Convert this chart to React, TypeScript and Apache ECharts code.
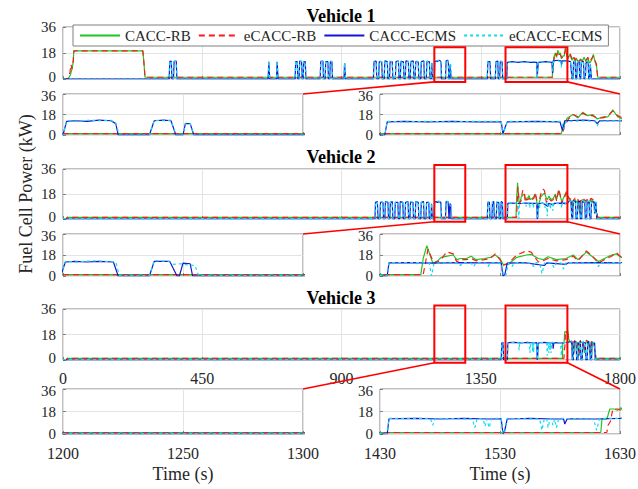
import React, { useEffect, useRef } from "react";
import * as echarts from "echarts";

type P = [number, number];

// ---------- data ----------
const seriesNames = ["CACC-RB", "eCACC-RB", "CACC-ECMS", "eCACC-ECMS"];
const vehicleTitles = ["Vehicle 1", "Vehicle 2", "Vehicle 3"];
const mainRange = [0, 1800];
const mainInterval = 450;
const zoomLeftRange = [1200, 1300];
const zoomLeftInterval = 50;
const zoomRightRange = [1430, 1630];
const zoomRightInterval = 100;
const yRange = [0, 36];
const yInterval = 18;
// red box vertical extent (kW) on each main panel
const boxY: P[] = [[-2, 22], [-2, 38.8], [-2, 38.5]];

const v1RB: P[] = [[0,0],[18,0.5],[24,3],[28,6],[31,9],[33,12],[35,19.5],[258,19.5],[262,10],[265,1.2],[1581,1.2],[1583,8],[1586,15],[1591,18],[1595,15],[1599,20],[1603,17],[1607,18],[1611,14],[1616,16],[1620,16],[1624,22],[1628,16],[1632,14],[1638,17],[1645,13],[1650,15],[1655,12],[1660,14],[1666,11],[1672,14],[1678,12],[1684,15],[1690,12],[1696,14],[1702,11],[1708,13],[1714,17],[1718,13],[1724,9],[1728,1.2],[1800,1.2]];
const v1eRB: P[] = [[0,0],[18,0.5],[22,4],[26,10],[29,7],[33,12],[35,19.5],[258,19.5],[262,10],[265,1.2],[1582,1.2],[1584,8],[1587,14],[1591,18],[1595,16],[1599,19],[1603,17],[1607,17],[1611,15],[1616,15],[1620,17],[1624,21],[1628,17],[1632,15],[1638,18],[1645,14],[1650,16],[1655,13],[1660,15],[1666,12],[1672,13],[1678,13],[1684,14],[1690,13],[1696,15],[1702,12],[1708,14],[1714,16],[1718,14],[1724,10],[1728,1.2],[1800,1.2]];
const v1ECMS: P[] = [[0,0],[343,0],[345,12],[350,12.5],[352,0],[357,0],[359,12],[366,12.5],[368,0],[663,0],[665,12],[668,0],[690,0],[692,12],[695,0],[750,0],[752,12],[757,12],[759,0],[763,0],[765,12.5],[771,12],[773,0],[776,0],[778,12],[783,12],[785,0],[831,0],[833,12],[840,12.5],[842,0],[847,0],[849,12],[856,12],[858,0],[862,0],[864,12],[869,12],[871,0],[908,0],[910,11],[913,0],[1003,0],[1005,12],[1012,12.5],[1014,0],[1020,0],[1022,12],[1030,12],[1032,0],[1038,0],[1040,12.5],[1048,12],[1050,0],[1055,0],[1057,12],[1064,12],[1066,0],[1074,0],[1076,12],[1084,12.5],[1086,0],[1090,0],[1092,12],[1100,12],[1102,0],[1106,0],[1108,12.5],[1116,12],[1118,0],[1122,0],[1124,12],[1132,12.5],[1134,0],[1138,0],[1140,12],[1148,12],[1150,0],[1156,0],[1158,12],[1166,12.5],[1168,0],[1174,0],[1176,12],[1184,12],[1186,0],[1190,0],[1192,11],[1194,0],[1200,0],[1201.5,12],[1205,12.5],[1210,12],[1215,13],[1220,12.5],[1222,10],[1223,0],[1236,0],[1238,12.5],[1242,13],[1245,12.5],[1247,0],[1250,0],[1251,10],[1253,10],[1254.5,0],[1371,0],[1373,12],[1380,12],[1382,0],[1397,0],[1399,12],[1405,12.5],[1407,0],[1411,0],[1413,12],[1419,12],[1421,0],[1434,0],[1436,11.5],[1450,12],[1470,11.5],[1490,12],[1510,11.5],[1531,11.5],[1532.5,1],[1534,6],[1536,11.5],[1560,12],[1580,11.5],[1582,4],[1584,12.5],[1600,13],[1609,12.5],[1611,10],[1613,12.5],[1630,12.5],[1640,12],[1645,0],[1648,0],[1650,12],[1655,12],[1657,0],[1660,0],[1662,11],[1668,12],[1670,0],[1673,0],[1675,12],[1682,12],[1684,0],[1688,0],[1690,11],[1697,12],[1699,0],[1702,0],[1704,10],[1708,0],[1800,0]];
const v1eECMS: P[] = [[0,0],[343,0],[345,12.5],[350,12],[352,0],[357,0],[359,12.5],[366,12],[368,0],[663,0],[665,12.5],[668,0],[690,0],[692,12.5],[695,0],[750,0],[752,12.5],[757,12],[759,0],[763,0],[765,12],[771,12.5],[773,0],[776,0],[778,12.5],[783,12],[785,0],[831,0],[833,12.5],[840,12],[842,0],[847,0],[849,12.5],[856,12],[858,0],[862,0],[864,12.5],[869,12],[871,0],[908,0],[910,11.5],[913,0],[1003,0],[1005,12.5],[1012,12],[1014,0],[1020,0],[1022,12.5],[1030,12],[1032,0],[1038,0],[1040,12],[1048,12.5],[1050,0],[1055,0],[1057,12.5],[1064,12],[1066,0],[1074,0],[1076,12.5],[1084,12],[1086,0],[1090,0],[1092,12.5],[1100,12],[1102,0],[1106,0],[1108,12],[1116,12.5],[1118,0],[1122,0],[1124,12.5],[1132,12],[1134,0],[1138,0],[1140,12.5],[1148,12],[1150,0],[1156,0],[1158,12.5],[1166,12],[1168,0],[1174,0],[1176,12.5],[1184,12],[1186,0],[1190,0],[1192,11.5],[1194,0],[1200,0],[1201.5,12.5],[1206,12],[1211,13],[1216,12.5],[1220,13],[1222,10],[1223.5,0],[1236,0],[1238,13],[1242,12.5],[1245,13],[1247,0],[1250,0],[1251,10.5],[1253,10],[1254.5,0],[1371,0],[1373,12.5],[1380,12],[1382,0],[1397,0],[1399,12.5],[1405,12],[1407,0],[1411,0],[1413,12.5],[1419,12],[1421,0],[1434,0],[1436,12],[1450,11.5],[1470,12],[1490,11.5],[1510,12],[1531,12],[1532.5,0],[1534,5],[1536,12],[1560,11.5],[1581,12],[1583,5],[1585,12],[1600,12.5],[1609,12],[1611,8],[1613,12],[1630,12.5],[1640,12.5],[1645,0],[1648,0],[1650,12.5],[1655,12],[1657,0],[1660,0],[1662,11.5],[1668,12],[1670,0],[1673,0],[1675,12.5],[1682,12],[1684,0],[1688,0],[1690,11.5],[1697,12],[1699,0],[1702,0],[1704,10.5],[1708,0],[1800,0]];

const v2RB: P[] = [[0,0],[10,0],[14,1.2],[1464,1.2],[1466,15],[1469,26],[1471,20],[1474,11],[1478,13],[1481,16],[1486,17],[1491,18],[1494,14],[1497,15],[1502,15],[1506,17],[1510,14],[1517,15],[1522,16],[1526,18],[1530,15],[1532.5,10],[1537,10],[1544,16],[1552,18],[1556,18.5],[1562,15],[1566,14],[1570,16.5],[1577,14],[1585,15],[1591,18],[1595,14],[1602,20.5],[1607,16.5],[1612,12.5],[1617,15],[1623,18],[1627,19],[1630,16.5],[1636,14],[1642,13],[1645,3],[1648,12],[1655,14],[1660,12],[1665,13],[1670,4],[1673,13],[1680,14],[1688,12],[1694,13],[1700,11],[1706,14],[1712,13],[1718,12],[1723,5],[1728,1.2],[1800,1.2]];
const v2eRB: P[] = [[0,0],[10,0],[14,1.2],[1466,1.2],[1468,12],[1470,23],[1472,18],[1475,11],[1480,13],[1485.6,20.7],[1491,19],[1494,12],[1497,14],[1502,14],[1506,15],[1510,13],[1517,14],[1522,15],[1526,19],[1530,14],[1532.5,9],[1537,11],[1544,18],[1552,21.5],[1556,20.5],[1562,12],[1566,13],[1570,15],[1577,13],[1585,14],[1591,17],[1595,13],[1602,21.5],[1607,17],[1612,11],[1617,14],[1623,17],[1627,20],[1630,17],[1636,15],[1642,14],[1645,4],[1648,13],[1655,15],[1660,13],[1665,14],[1670,5],[1673,14],[1680,15],[1688,13],[1694,14],[1700,12],[1706,15],[1712,14],[1718,13],[1723,6],[1728,1.2],[1800,1.2]];
const v2ECMS: P[] = [[0,0],[1008,0],[1010,12],[1016,12.5],[1018,0],[1024,0],[1026,12],[1034,12],[1036,0],[1040,0],[1042,12.5],[1050,12],[1052,0],[1056,0],[1058,12],[1064,12.5],[1066,0],[1072,0],[1074,12],[1082,12],[1084,0],[1088,0],[1090,12.5],[1098,12],[1100,0],[1105,0],[1107,12],[1115,12.5],[1117,0],[1121,0],[1123,12],[1131,12],[1133,0],[1138,0],[1140,12.5],[1148,12],[1150,0],[1156,0],[1158,12],[1165,12.5],[1167,0],[1173,0],[1175,12],[1182,12],[1184,0],[1189,0],[1191,11],[1194,0],[1199,0],[1201,12],[1205,12.5],[1210,12],[1215,12.5],[1221,12],[1223,0],[1236,0],[1238,12.5],[1244.5,12.5],[1247.5,0],[1248.5,0],[1250,11],[1253,10.5],[1254,0],[1371,0],[1373,12],[1378,12],[1380,0],[1386,0],[1388,12],[1392,12.5],[1394,0],[1400,0],[1402,12],[1408,12],[1410,0],[1414,0],[1416,12.5],[1420,12],[1422,0],[1436,0],[1437.5,11.3],[1455,11.5],[1475,11],[1495,11.5],[1515,11.2],[1531,11.3],[1532.5,0],[1534,1],[1536,11],[1550,11.5],[1567,9],[1569,11.3],[1585,10],[1587,11.3],[1610,11.5],[1630,11.3],[1636,13],[1642,12.5],[1644,0],[1647,0],[1649,13],[1656,12.5],[1658,0],[1662,0],[1664,12],[1670,13],[1672,0],[1676,0],[1678,12.5],[1686,12],[1688,0],[1692,0],[1694,13],[1700,12],[1702,0],[1706,0],[1708,12.5],[1716,12],[1718,4],[1722,12],[1725,0],[1800,0]];
const v2eECMS: P[] = [[0,0.3],[1008,0.3],[1010,12.5],[1016,12],[1018,0.3],[1024,0.3],[1026,12.5],[1034,12],[1036,0.3],[1040,0.3],[1042,12],[1050,12.5],[1052,0.3],[1056,0.3],[1058,12.5],[1064,12],[1066,0.3],[1072,0.3],[1074,12.5],[1082,12],[1084,0.3],[1088,0.3],[1090,12],[1098,12.5],[1100,0.3],[1105,0.3],[1107,12.5],[1115,12],[1117,0.3],[1121,0.3],[1123,12.5],[1131,12],[1133,0.3],[1138,0.3],[1140,12],[1148,12.5],[1150,0.3],[1156,0.3],[1158,12.5],[1165,12],[1167,0.3],[1173,0.3],[1175,12.5],[1182,12],[1184,0.3],[1189,0.3],[1191,11.5],[1194,0.3],[1199,0.3],[1201,12.5],[1206,12],[1212,13],[1218,12.5],[1222,12],[1223.5,0.3],[1236,0.3],[1238,13],[1244,12.5],[1246,10],[1249,10.5],[1252,9.5],[1255,9],[1256.5,0.3],[1371,0.3],[1373,12.5],[1378,12],[1380,0.3],[1386,0.3],[1388,12.5],[1392,12],[1394,0.3],[1400,0.3],[1402,12.5],[1408,12],[1410,0.3],[1414,0.3],[1416,12],[1420,12.5],[1422,0.3],[1436,0.3],[1437.5,11.5],[1465,11.5],[1471,11],[1473,0],[1475,11],[1495,11.5],[1497,9],[1499,11.5],[1506,11],[1508,8],[1510,11.5],[1518,11],[1520,8],[1522,11.5],[1531,11],[1533,0],[1535,1],[1537,11],[1540,8],[1542,11.5],[1556,11],[1558,8],[1560,11.5],[1563,11],[1565,2],[1567,11],[1573,11.5],[1575,7],[1577,11.5],[1581,11],[1583,6],[1585,11.5],[1610,11],[1612,8],[1614,11.5],[1620,11],[1622,10],[1624,11.5],[1630,11.5],[1636,12.5],[1642,13],[1644,0.3],[1647,0.3],[1649,12.5],[1656,13],[1658,0.3],[1662,0.3],[1664,12.5],[1670,12],[1672,0.3],[1676,0.3],[1678,13],[1686,12.5],[1688,0.3],[1692,0.3],[1694,12.5],[1700,13],[1702,0.3],[1706,0.3],[1708,12],[1716,12.5],[1718,5],[1722,12.5],[1725,0.3],[1800,0.3]];

const v3RB: P[] = [[0,0],[10,0],[14,1.2],[1614,1.2],[1615,12],[1619,12],[1620,15],[1621.5,20],[1625,20],[1628,19],[1631,21],[1634,15],[1638,13],[1645,12],[1650,4],[1654,13],[1662,12.5],[1668,3],[1672,13],[1680,12],[1686,5],[1690,13],[1698,12],[1704,4],[1708,13],[1715,12],[1720,5],[1722,1.2],[1800,1.2]];
const v3eRB: P[] = [[0,0],[10,0],[14,1.2],[1619,1.2],[1620,7],[1622,10],[1624,20],[1628,20],[1631,19],[1634,16],[1638,14],[1645,13],[1650,5],[1654,14],[1662,13],[1668,4],[1672,14],[1680,13],[1686,6],[1690,14],[1698,13],[1704,5],[1708,14],[1715,13],[1720,6],[1722,1.2],[1800,1.2]];
const v3ECMS: P[] = [[0,0],[1416,0],[1418,12],[1422,12.5],[1424,0],[1436,0],[1437.5,12.2],[1460,12.5],[1480,12],[1500,12.5],[1520,12],[1531,12.2],[1532.5,0],[1534,3],[1536,12],[1555,12.5],[1575,12],[1583,12],[1584,8],[1586,12.2],[1610,12],[1630,12.5],[1640,13],[1644,12.5],[1646,0],[1649,0],[1651,13],[1658,12.5],[1660,0],[1664,0],[1666,12],[1672,13],[1674,0],[1678,0],[1680,12.5],[1688,12],[1690,0],[1694,0],[1696,13],[1702,12],[1704,0],[1708,0],[1710,12.5],[1718,12],[1720,0],[1800,0]];
const v3eECMS: P[] = [[0,0.3],[1416,0.3],[1418,12.5],[1422,12],[1424,0.3],[1436,0.3],[1437.5,12.5],[1472,12.5],[1474,7],[1476,12.5],[1507,12],[1509,5],[1511,12.5],[1516,12],[1517.5,6],[1519,12],[1521,5],[1523,12.5],[1531,12.5],[1532.5,0],[1534,2],[1536,12.5],[1563,12],[1565,3],[1567,12.5],[1569,12],[1570,5],[1572,12.5],[1573,12],[1574,7],[1575.5,12],[1577,5],[1579,12.5],[1608,12],[1610.5,3],[1613,12.5],[1630,12.5],[1640,12.5],[1644,13],[1646,0.3],[1649,0.3],[1651,12.5],[1658,13],[1660,0.3],[1664,0.3],[1666,12.5],[1672,12],[1674,0.3],[1678,0.3],[1680,13],[1688,12.5],[1690,0.3],[1694,0.3],[1696,12.5],[1702,13],[1704,0.3],[1708,0.3],[1710,12],[1718,12.5],[1720,0.3],[1800,0.3]];

const vehicleData: P[][][] = [
  [v1RB, v1eRB, v1ECMS, v1eECMS],
  [v2RB, v2eRB, v2ECMS, v2eECMS],
  [v3RB, v3eRB, v3ECMS, v3eECMS],
];

// ---------- styles / layout ----------
const FONT = '"Liberation Serif", "Times New Roman", serif';
const TXT = "#262626";
const lineStyles = [
  { color: "#22c422", type: "solid" as any, width: 1.2 },
  { color: "#ff1a1a", type: [6, 4] as any, width: 1.2 },
  { color: "#1414d2", type: "solid" as any, width: 1.2 },
  { color: "#10dcf0", type: [3, 3] as any, width: 1.2 },
];
const mainGrid = [
  { top: 27, height: 52 },
  { top: 169, height: 50 },
  { top: 309, height: 51 },
];
const zoomGrid = [
  { top: 94, height: 41 },
  { top: 234, height: 42 },
  { top: 389, height: 45 },
];
const titleY = [16, 157, 298];

export default function App() {
  const ref = useRef<HTMLDivElement>(null);
  useEffect(() => {
    document.body.style.margin = "0";
    if (!ref.current) return;
    const chart = echarts.init(ref.current, undefined, { renderer: "svg" });

    const grids: any[] = [];
    const xAxes: any[] = [];
    const yAxes: any[] = [];
    const series: any[] = [];

    const labelText = { fontFamily: FONT, fontSize: 15, color: TXT };
    // main panels: nudge the "0" label up; zoom panels: nudge the "36" label down
    const yAxisBase = (gi: number, isZoom: boolean) => ({
      type: "value",
      gridIndex: gi,
      min: yRange[0],
      max: yRange[1],
      interval: yInterval,
      axisLine: { show: false },
      axisTick: { show: true, inside: true, length: 3, lineStyle: { color: "#808080" } },
      splitLine: { show: true, lineStyle: { color: "#e3e3e3", width: 1 } },
      axisLabel: {
        ...labelText,
        margin: 7,
        formatter: (v: number) =>
          !isZoom && v === yRange[0] ? `{lo|${v}}` : isZoom && v === yRange[1] ? `{hi|${v}}` : `{n|${v}}`,
        rich: {
          n: { ...labelText },
          lo: { ...labelText, padding: [0, 0, 5, 0] },
          hi: { ...labelText, padding: [4, 0, 0, 0] },
        },
      },
    });
    const xAxisBase = (gi: number, showLabel: boolean, margin: number) => ({
      type: "value",
      gridIndex: gi,
      axisLine: { show: false },
      axisTick: { show: true, inside: true, length: 3, lineStyle: { color: "#808080" } },
      splitLine: { show: true, lineStyle: { color: "#e3e3e3", width: 1 } },
      axisLabel: { show: showLabel, fontFamily: FONT, fontSize: 16, color: TXT, margin, formatter: (v: number) => String(v) },
    });
    const nameStyle = { fontFamily: FONT, fontSize: 18, color: TXT };
    const gridBase = { show: true, borderColor: "#808080", borderWidth: 1, backgroundColor: "#fff", containLabel: false, outerBoundsMode: "none" };

    for (let k = 0; k < 3; k++) {
      const last = k === 2;
      const gMain = grids.length;
      grids.push({ ...gridBase, left: 63, width: 557, top: mainGrid[k].top, height: mainGrid[k].height });
      xAxes.push({ ...xAxisBase(gMain, last, 10), min: mainRange[0], max: mainRange[1], interval: mainInterval });
      yAxes.push(yAxisBase(gMain, false));

      const gL = grids.length;
      grids.push({ ...gridBase, left: 63, width: 240, top: zoomGrid[k].top, height: zoomGrid[k].height });
      xAxes.push({
        ...xAxisBase(gL, last, 11),
        min: zoomLeftRange[0], max: zoomLeftRange[1], interval: zoomLeftInterval,
        ...(last ? { name: "Time (s)", nameLocation: "middle", nameGap: 31, nameTextStyle: nameStyle } : {}),
      });
      yAxes.push(yAxisBase(gL, true));

      const gR = grids.length;
      const off = zoomRightRange[0];
      grids.push({ ...gridBase, left: 380, width: 240, top: zoomGrid[k].top, height: zoomGrid[k].height });
      const xr: any = {
        ...xAxisBase(gR, last, 11),
        min: 0, max: zoomRightRange[1] - off, interval: zoomRightInterval,
        ...(last ? { name: "Time (s)", nameLocation: "middle", nameGap: 31, nameTextStyle: nameStyle } : {}),
      };
      xr.axisLabel = { ...xr.axisLabel, formatter: (v: number) => String(v + off) };
      xAxes.push(xr);
      yAxes.push(yAxisBase(gR, true));

      [gMain, gL, gR].forEach((gi, pi) => {
        vehicleData[k].forEach((arr, j) => {
          const data = pi === 2 ? arr.map(([t, v]) => [t - off, v]) : arr;
          series.push({
            type: "line",
            name: seriesNames[j],
            xAxisIndex: gi,
            yAxisIndex: gi,
            data,
            symbol: "none",
            showSymbol: false,
            clip: true,
            lineStyle: lineStyles[j],
            itemStyle: { color: lineStyles[j].color },
            z: 2 + j,
          });
        });
      });
    }

    chart.setOption({
      animation: false,
      backgroundColor: "#fff",
      grid: grids,
      xAxis: xAxes,
      yAxis: yAxes,
      series,
      legend: {
        data: seriesNames,
        left: 73,
        top: 25,
        orient: "horizontal",
        itemWidth: 40,
        itemHeight: 12,
        itemGap: 7,
        padding: [3, 6, 3, 6],
        borderColor: "#808080",
        borderWidth: 1,
        backgroundColor: "#fff",
        itemStyle: { opacity: 0, borderWidth: 0 },
        textStyle: { fontFamily: FONT, fontSize: 15, color: TXT },
        z: 20,
      },
    });

    // annotations: zoom boxes and connecting lines, placed via the axes
    const graphics: any[] = [];
    vehicleTitles.forEach((t, k) => {
      graphics.push({
        type: "text",
        x: 341,
        y: titleY[k],
        z: 30,
        style: { text: t, font: `bold 18px ${FONT}`, fill: "#000", textAlign: "center", textVerticalAlign: "middle" },
      });
    });
    graphics.push({
      type: "text",
      x: 26,
      y: 194,
      rotation: Math.PI / 2,
      z: 30,
      style: { text: "Fuel Cell Power (kW)", font: `18px ${FONT}`, fill: TXT, textAlign: "center", textVerticalAlign: "middle" },
    });
    for (let k = 0; k < 3; k++) {
      const gMain = 3 * k;
      const gL = gMain + 1;
      const gR = gMain + 2;
      const [yb, yt] = boxY[k];
      const ranges = [zoomLeftRange, zoomRightRange];
      const boxPts = ranges.map((r) => [
        chart.convertToPixel({ gridIndex: gMain } as any, [r[0], yt]) as number[],
        chart.convertToPixel({ gridIndex: gMain } as any, [r[1], yb]) as number[],
      ]);
      boxPts.forEach(([a, b]) => {
        graphics.push({
          type: "rect",
          z: 25,
          shape: { x: a[0], y: a[1], width: b[0] - a[0], height: b[1] - a[1] },
          style: { fill: "none", stroke: "#ff0000", lineWidth: 2 },
        });
      });
      const lTop = chart.convertToPixel({ gridIndex: gL } as any, [zoomLeftRange[1], yRange[1]]) as number[];
      const rTop = chart.convertToPixel({ gridIndex: gR } as any, [zoomRightRange[1] - zoomRightRange[0], yRange[1]]) as number[];
      graphics.push({
        type: "line",
        z: 25,
        shape: { x1: boxPts[0][0][0], y1: boxPts[0][1][1], x2: lTop[0], y2: lTop[1] },
        style: { stroke: "#ff0000", lineWidth: 1.6 },
      });
      graphics.push({
        type: "line",
        z: 25,
        shape: { x1: boxPts[1][1][0], y1: boxPts[1][1][1], x2: rTop[0], y2: rTop[1] },
        style: { stroke: "#ff0000", lineWidth: 1.6 },
      });
    }
    chart.setOption({ graphic: graphics });

    return () => chart.dispose();
  }, []);
  return <div ref={ref} style={{ width: 638, height: 489 }} />;
}
